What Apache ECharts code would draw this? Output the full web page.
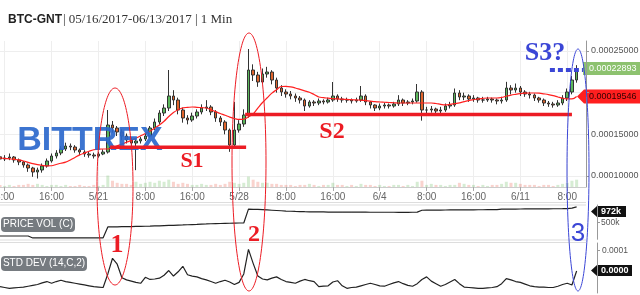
<!DOCTYPE html>
<html><head><meta charset="utf-8">
<script src="https://cdn.jsdelivr.net/npm/echarts@6/dist/echarts.min.js"></script>
<style>html,body{margin:0;padding:0;background:#fff}#c{width:640px;height:295px}</style>
</head><body><div id="c"></div>
<script>
// ---------- data (prices in satoshi = 1e-8 BTC) ----------
const tickLabels = ['8:00','16:00','5/21','8:00','16:00','5/28','8:00','16:00','6/4','8:00','16:00','6/11','8:00'];
const slotCount = 126;
const open = [12300,12040,12160,12280,11920,11680,11320,10960,10480,10720,
 11200,11800,12400,12760,13240,13600,13480,13120,12880,12640,
 12520,12400,12640,12880,16120,15760,15280,14800,14320,13960,
 14200,14440,14800,15760,16480,17560,18160,19600,19120,17920,
 16960,16720,17200,17680,18160,18280,17680,16960,16480,15520,
 13720,15520,16240,17320,22720,22120,21280,22240,22480,21520,
 20560,20080,19840,19600,19360,19120,18400,18880,18760,19000,
 18880,19120,19600,19240,19120,19120,19000,19120,19600,18880,
 18520,18160,18400,18520,18400,18640,19120,18760,18880,19000,
 20080,17920,17920,18040,17800,17920,18400,18520,19960,19480,
 19600,19240,19360,19120,19120,19240,19120,19000,19120,20560,
 20320,20560,20080,19840,19720,19360,19120,18760,18640,18520,
 18760,19360,20080,21520];
const close = [12040,12160,12280,11920,11680,11320,10960,10480,10720,11200,
 11800,12400,12760,13240,13600,13480,13120,12880,12640,12520,
 12400,12640,12880,16120,15760,15280,14800,14320,13960,14200,
 14440,14800,15760,16480,17560,18160,19600,19120,17920,16960,
 16720,17200,17680,18160,18280,17680,16960,16480,15520,13720,
 15520,16240,17320,22720,22120,21280,22240,22480,21520,20560,
 20080,19840,19600,19360,19120,18400,18880,18760,19000,18880,
 19120,19600,19240,19120,19120,19000,19120,19600,18880,18520,
 18160,18400,18520,18400,18640,19120,18760,18880,19000,20080,
 17920,17920,18040,17800,17920,18400,18520,19960,19480,19600,
 19240,19360,19120,19120,19240,19120,19000,19120,20560,20320,
 20560,20080,19840,19720,19360,19120,18760,18640,18520,18760,
 19360,20080,21520,22893];
const low = [11700,11800,11900,11600,11300,11000,10500,9900,9700,10400,
 11000,11600,12100,12500,13000,13100,12800,12500,12300,12200,
 12100,12200,12500,12700,15200,14800,14300,13900,13500,10700,
 13900,14200,14600,15500,16200,17200,17800,18500,17400,16400,
 16200,16500,16900,17400,17800,17300,16500,16000,15000,12900,
 13500,15200,15900,17000,21400,20700,21000,21800,21000,20000,
 19600,19400,19200,18900,18700,17800,18200,18400,18500,18600,
 18700,18900,18900,18800,18800,18700,18800,18900,18500,18100,
 17800,17900,18100,18100,18200,18400,18400,18500,18600,18800,
 16640,17500,17600,17400,17500,17700,18100,18300,19100,19100,
 18900,18900,18800,18800,18900,18800,18600,18700,18900,19800,
 20000,19600,19500,19300,19000,18800,18400,18300,18200,18300,
 18500,19000,19800,21200];
const high = [12600,12500,12700,12400,12100,11800,11500,11100,11000,11500,
 12100,12700,13100,13600,14000,13900,13700,13300,13100,12900,
 12800,12900,13200,17920,16600,16000,15600,15100,14600,14500,
 14700,15200,16000,16900,17900,18600,22720,20300,19400,18200,
 17300,17600,18000,18600,19100,18500,17900,17200,16700,15700,
 18880,16700,18000,25240,23400,22500,22900,23100,22700,21800,
 20900,20400,20200,19900,19600,19300,19100,19100,19300,19200,
 19400,21280,19800,19500,19400,19300,19400,20800,19800,19000,
 18600,18700,18800,18700,18900,19700,19300,19100,19300,21040,
 20300,18300,18400,18200,18300,18700,18900,20500,20300,20000,
 19800,19700,19500,19500,19500,19400,19300,19500,21300,20900,
 21100,20800,20300,20100,19900,19500,19300,19000,18900,19100,
 19700,20500,22000,23300];
const movingAvg = [12160,12120,12060,12000,11930,11800,11640,11480,11360,11280,
 11220,11230,11380,11530,11660,11920,12230,12530,12750,12970,
 13150,13230,13240,13240,13380,13620,13830,14050,14270,14540,
 14820,15100,15380,15720,16110,16570,17140,17630,17960,18180,
 18230,18280,18240,18200,18160,17940,17720,17500,17290,17070,
 16900,16790,16820,17100,17450,18150,18820,19390,19950,20350,
 20740,20760,20700,20560,20390,20220,20050,19780,19480,19400,
 19340,19280,19250,19220,19190,19160,19130,19100,19040,18980,
 18920,18880,18850,18820,18790,18760,18760,18760,18760,18760,
 18760,18760,18760,18700,18600,18530,18600,18690,18780,18920,
 19050,19150,19240,19320,19360,19360,19360,19430,19580,19710,
 19800,19880,19950,19960,19960,19940,19860,19770,19640,19480,
 19330,19260,19250,19546];
const volume = [2,1,2,1,2,2,3,2,3,2,1,2,2,1,2,1,1,2,1,1,2,1,2,
 11,6,4,3,3,2,5,3,4,5,4,6,5,7,5,3,4,3,2,2,3,2,2,3,2,3,5,4,3,4,10,7,5,4,4,3,3,2,
 2,2,1,2,2,3,2,1,2,2, 4,
 2,2,1,2,1,3,2,2,1,2,1,1,2,2,1,2,1, 5,6,
 2,3,2,2,1,2,2,4,3,2,2,1,2,1,2,2,3, 5,4,4,
 3,2,2,2,1,2,2,1,2,3,4, 6,7];
const priceVolK = [99,99,99,99,99,99,99,
 40,40,40,40,40,40,40,41,41,41,42,42,42,43,43,44,
 370,
 372,375,378,380,383,386,388,392,395,400,405,410,415,420,425,430,436,442,448,455,460,466,470,474,478,482,486,489,491,
 905,900,895,888,880,872,864,856,
 848,842,836,832,828,825,823,821,820,818,817,816,815,815,814,814,813,813,812,812,812,811,811,811,810,810,810,812,815,
 872,874,876,877,878,879,880,881,882,883,884,885,886,887,888,889,890,
 905,906,907,908,909,910,911,912,913,914,915,916,917,918,920,
 935,972];
const stdDevMicro = [15,13,11,12,13,14,16,18,20,24,
 27,23,27,30,27,25,23,21,19,17,
 15,14,13,45,82,68,36,31,28,25,
 23,37,32,33,35,42,53,40,50,63,
 43,40,38,34,31,27,23,27,30,26,
 20,25,45,103,70,40,33,31,35,38,
 32,27,25,23,28,32,29,27,15,16,
 17,26,29,17,11,13,14,17,20,23,
 20,17,16,20,24,27,22,18,16,22,
 32,38,28,22,16,20,26,32,22,14,
 13,12,11,11,12,13,15,22,34,31,
 27,25,21,17,15,14,14,13,13,16,
 20,23,19,52];
const volTagText = '972k';
const stdTagText = '0.0000';
const mainTickValues = [10000,15000,20000,25000];
const mainLabelValues = [10000,15000,25000];
// support levels drawn on the chart (category position, price)
const supportLines = [{from:23.5,to:52.5,level:13440},{from:52.3,to:122,level:17380}];
const resistGuess = {from:117.3,to:124.4,level:22720};

// ---------- chart ----------
const chart = echarts.init(document.getElementById('c'));
const cats = Array.from({length: slotCount}, (_, i) => 'c' + i);
const labelAt = i => (i >= 1 && (i - 1) % 10 === 0 && tickLabels[(i - 1) / 10]) ? tickLabels[(i - 1) / 10] : null;
const showTick = i => labelAt(i) !== null;
const fmtPrice = v => (v / 1e8).toFixed(8);
const FONT = 'Liberation Sans, Arial, sans-serif';
const candles = open.map((o, i) => [o, close[i], low[i], high[i]]);
const volBars = volume.map((v, i) => ({value: v, itemStyle: {color: close[i] >= open[i] ? 'rgba(90,180,80,0.25)' : 'rgba(230,80,60,0.25)'}}));
const gridBase = {left: 0, right: 54, containLabel: false, outerBoundsMode: 'none'};

chart.setOption({
  animation: false,
  grid: [
    Object.assign({top: 41, height: 146}, gridBase),
    Object.assign({top: 205, height: 34.3}, gridBase),
    Object.assign({top: 243, height: 50}, gridBase)
  ],
  xAxis: [
    {type: 'category', gridIndex: 0, data: cats, boundaryGap: false,
     axisLine: {show: true, lineStyle: {color: '#ccc'}},
     axisTick: {show: true, interval: i => showTick(i), length: 4, lineStyle: {color: '#aaa'}},
     axisLabel: {interval: i => showTick(i), formatter: (v, i) => labelAt(i) || '', fontSize: 10, color: '#666', margin: 5, fontFamily: FONT},
     splitLine: {show: true, interval: i => showTick(i), lineStyle: {color: '#eee'}}},
    {type: 'category', gridIndex: 1, data: cats, boundaryGap: false, show: false},
    {type: 'category', gridIndex: 2, data: cats, boundaryGap: false, show: false}
  ],
  yAxis: [
    {type: 'value', gridIndex: 0, position: 'right', min: 8680, max: 26200,
     axisLine: {show: true, lineStyle: {color: '#999'}},
     axisTick: {show: true, customValues: mainTickValues, length: 3, lineStyle: {color: '#999'}},
     axisLabel: {customValues: mainLabelValues, formatter: fmtPrice, fontSize: 9, color: '#555', margin: 5, fontFamily: FONT},
     splitLine: {show: true, lineStyle: {color: '#eee'}}},
    {type: 'value', gridIndex: 0, min: 0, max: 140, show: false},
    {type: 'value', gridIndex: 1, position: 'right', offset: 11, min: 0, max: 1029,
     axisLine: {show: true, lineStyle: {color: '#999'}},
     axisTick: {show: true, customValues: [500], length: 3, lineStyle: {color: '#999'}},
     axisLabel: {customValues: [500], formatter: v => v + 'k', fontSize: 8.5, color: '#555', margin: 4, fontFamily: FONT},
     splitLine: {show: false}},
    {type: 'value', gridIndex: 2, position: 'right', offset: 11, min: 0, max: 118,
     axisLine: {show: true, lineStyle: {color: '#999'}},
     axisTick: {show: true, customValues: [100], length: 3, lineStyle: {color: '#999'}},
     axisLabel: {customValues: [100], formatter: v => (v / 1e6).toFixed(4), fontSize: 8.5, color: '#555', margin: 5, fontFamily: FONT},
     splitLine: {show: false}}
  ],
  series: [
    {type: 'bar', xAxisIndex: 0, yAxisIndex: 1, data: volBars, barWidth: 3, silent: true},
    {type: 'candlestick', xAxisIndex: 0, yAxisIndex: 0, data: candles, barWidth: 3,
     itemStyle: {color: '#5cb85c', color0: '#e0642c', borderColor: '#333', borderColor0: '#333', borderWidth: 1}},
    {type: 'line', xAxisIndex: 0, yAxisIndex: 0, data: movingAvg, smooth: 0.4, showSymbol: false,
     lineStyle: {color: '#ff2020', width: 1.2}},
    {type: 'line', xAxisIndex: 1, yAxisIndex: 2, data: priceVolK, showSymbol: false,
     lineStyle: {color: '#222', width: 1.2}},
    {type: 'line', xAxisIndex: 2, yAxisIndex: 3, data: stdDevMicro, showSymbol: false,
     lineStyle: {color: '#222', width: 1.2}}
  ]
});

// ---------- overlays ----------
const toPx = (f, v) => {
  const a = chart.convertToPixel({xAxisIndex: 0, yAxisIndex: 0}, [0, v]);
  const b = chart.convertToPixel({xAxisIndex: 0, yAxisIndex: 0}, [1, v]);
  return [a[0] + f * (b[0] - a[0]), a[1]];
};
const RED = '#ec1c24', BLUE = '#3b46d6';
const g = [];
// separators
g.push({type: 'line', shape: {x1: 0, y1: 202.5, x2: 586, y2: 202.5}, style: {stroke: '#ddd', lineWidth: 1}});
g.push({type: 'line', shape: {x1: 0, y1: 205, x2: 586, y2: 205}, style: {stroke: '#ddd', lineWidth: 1}});
g.push({type: 'line', shape: {x1: 0, y1: 240, x2: 586, y2: 240}, style: {stroke: '#ddd', lineWidth: 1}});
g.push({type: 'line', shape: {x1: 0, y1: 242.5, x2: 586, y2: 242.5}, style: {stroke: '#ddd', lineWidth: 1}});
// title
g.push({type: 'text', x: 8, y: 20, style: {text: 'BTC-GNT', font: 'bold 12px ' + FONT, fill: '#222', textVerticalAlign: 'middle'}});
g.push({type: 'text', x: 63, y: 20, style: {text: '| 05/16/2017-06/13/2017 | 1 Min', font: '13px Liberation Serif, serif', fill: '#333', textVerticalAlign: 'middle'}});
// BITTREX watermark
g.push({type: 'text', x: 90, y: 141, z: 5, style: {text: 'BITTREX', font: 'bold 34px ' + FONT, textAlign: 'center', textVerticalAlign: 'middle', fill: '#2b68cc', opacity: 0.92}});
// panel tags
g.push({type: 'rect', shape: {x: 1, y: 217, width: 74, height: 15, r: 4}, style: {fill: '#767b80'}});
g.push({type: 'text', x: 38, y: 224.5, style: {text: 'PRICE VOL (C)', font: '10px ' + FONT, fill: '#fff', textAlign: 'center', textVerticalAlign: 'middle'}});
g.push({type: 'rect', shape: {x: 1, y: 256, width: 86, height: 15, r: 4}, style: {fill: '#767b80'}});
g.push({type: 'text', x: 44, y: 263.5, style: {text: 'STD DEV (14,C,2)', font: '10px ' + FONT, fill: '#fff', textAlign: 'center', textVerticalAlign: 'middle'}});
// price tags on the right
const yLast = toPx(0, close[close.length - 1])[1];
g.push({type: 'rect', shape: {x: 583, y: yLast - 6.5, width: 57, height: 13}, style: {fill: '#8dc26f'}});
g.push({type: 'text', x: 589, y: yLast, style: {text: fmtPrice(close[close.length - 1]), font: '9px ' + FONT, fill: '#fff', textVerticalAlign: 'middle'}});
const yMa = toPx(0, movingAvg[movingAvg.length - 1])[1];
g.push({type: 'polygon', shape: {points: [[577, yMa], [584, yMa - 7], [640, yMa - 7], [640, yMa + 7], [584, yMa + 7]]}, style: {fill: '#ff1f1f'}});
g.push({type: 'text', x: 589, y: yMa, style: {text: fmtPrice(movingAvg[movingAvg.length - 1]), font: '9px ' + FONT, fill: '#300', textVerticalAlign: 'middle'}});
g.push({type: 'polygon', shape: {points: [[591, 211.5], [597, 206], [626, 206], [626, 217], [597, 217]]}, style: {fill: '#111'}});
g.push({type: 'text', x: 601, y: 211.5, style: {text: volTagText, font: 'bold 9px ' + FONT, fill: '#fff', textVerticalAlign: 'middle'}});
g.push({type: 'polygon', shape: {points: [[591, 270.5], [597, 265], [632, 265], [632, 276], [597, 276]]}, style: {fill: '#111'}});
g.push({type: 'text', x: 601, y: 270.5, style: {text: stdTagText, font: 'bold 9px ' + FONT, fill: '#fff', textVerticalAlign: 'middle'}});
// hand drawn annotations
supportLines.forEach(s => {
  const a = toPx(s.from, s.level), b = toPx(s.to, s.level);
  g.push({type: 'line', z: 50, shape: {x1: a[0], y1: a[1], x2: b[0], y2: b[1]}, style: {stroke: RED, lineWidth: 3.5}});
});
{
  const a = toPx(resistGuess.from, resistGuess.level), b = toPx(resistGuess.to, resistGuess.level);
  g.push({type: 'line', z: 50, shape: {x1: a[0], y1: a[1], x2: b[0], y2: b[1]}, style: {stroke: BLUE, lineWidth: 4, lineDash: [5, 3]}});
}
g.push({type: 'ellipse', z: 60, shape: {cx: 115, cy: 186.5, rx: 18, ry: 98.5}, style: {fill: 'none', stroke: RED, lineWidth: 1}});
g.push({type: 'ellipse', z: 60, shape: {cx: 249, cy: 162, rx: 17, ry: 129}, style: {fill: 'none', stroke: RED, lineWidth: 1}});
g.push({type: 'ellipse', z: 60, shape: {cx: 578, cy: 170, rx: 11, ry: 121}, style: {fill: 'none', stroke: BLUE, lineWidth: 1}});
const SERIF = 'Liberation Serif, DejaVu Serif, serif';
g.push({type: 'text', z: 70, x: 192, y: 161, style: {text: 'S1', font: 'bold 22px ' + SERIF, fill: RED, textAlign: 'center', textVerticalAlign: 'middle'}});
g.push({type: 'text', z: 70, x: 332, y: 132, style: {text: 'S2', font: 'bold 24px ' + SERIF, fill: RED, textAlign: 'center', textVerticalAlign: 'middle'}});
g.push({type: 'text', z: 70, x: 545, y: 53, style: {text: 'S3?', font: 'bold 26px ' + SERIF, fill: BLUE, textAlign: 'center', textVerticalAlign: 'middle'}});
g.push({type: 'text', z: 70, x: 117, y: 245, style: {text: '1', font: 'bold 26px ' + SERIF, fill: RED, textAlign: 'center', textVerticalAlign: 'middle'}});
g.push({type: 'text', z: 70, x: 254, y: 235, style: {text: '2', font: 'bold 24px ' + SERIF, fill: RED, textAlign: 'center', textVerticalAlign: 'middle'}});
g.push({type: 'text', z: 70, x: 578, y: 234, style: {text: '3', font: '26px ' + FONT, fill: BLUE, textAlign: 'center', textVerticalAlign: 'middle'}});
chart.setOption({graphic: {elements: g}});
</script>
</body></html>
